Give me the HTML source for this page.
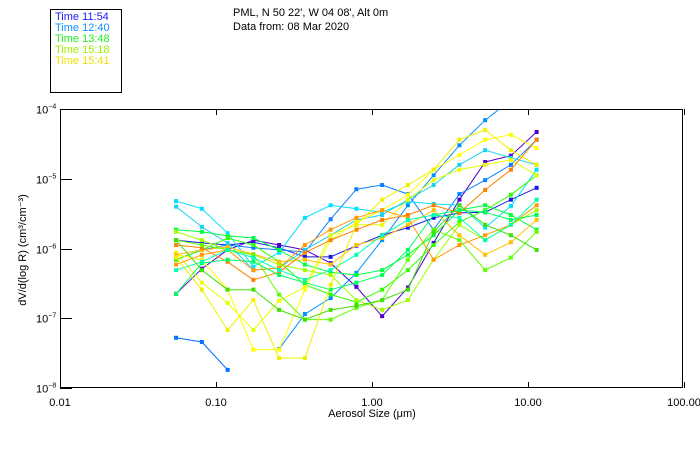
<!DOCTYPE html>
<html><head><meta charset="utf-8"><style>
body{margin:0;background:#fff;}
svg{font-family:"Liberation Sans",sans-serif;}
</style></head><body>
<svg id="chart" width="700" height="450" viewBox="0 0 700 450" xmlns="http://www.w3.org/2000/svg">
<rect x="0" y="0" width="700" height="450" fill="#fff"/>
<g>
<rect x="50.5" y="9.5" width="71" height="83" fill="none" stroke="#000"/>
<text x="55" y="20" font-size="11" fill="#1a1aff">Time 11:54</text>
<text x="55" y="31" font-size="11" fill="#1590ff">Time 12:40</text>
<text x="55" y="42" font-size="11" fill="#20ee20">Time 13:48</text>
<text x="55" y="53" font-size="11" fill="#a0f000">Time 15:18</text>
<text x="55" y="64" font-size="11" fill="#f0e000">Time 15:41</text>
</g>
<text x="233" y="16" font-size="11">PML, N 50 22', W 04 08', Alt 0m</text>
<text x="233" y="30" font-size="11">Data from: 08 Mar 2020</text>
<defs><clipPath id="pc"><rect x="60" y="109" width="623" height="279"/></clipPath></defs>
<g id="series" clip-path="url(#pc)"></g>
<rect x="60.5" y="109.5" width="622" height="278" fill="none" stroke="#000"/>
<g id="axes"></g>
<text x="372" y="417" font-size="11" text-anchor="middle">Aerosol Size (μm)</text>
<text transform="translate(26,250) rotate(-90)" font-size="11" text-anchor="middle">dV/d(log R) (cm³/cm⁻³)</text>
</svg>
<script>
const sizes = [0.0555,0.0812,0.1187,0.1736,0.2539,0.3713,0.5430,0.7941,1.1614,1.6985,2.484,3.633,5.313,7.770,11.36];
const xTicks = [0.01,0.1,1,10,100];
const xTickLabels = ["0.01","0.10","1.00","10.00","100.00"];
const yTicks = [-4,-5,-6,-7,-8];
const seriesColors = ["#1818e8","#5000d0","#0070ff","#0090ff","#0a80ff","#00e0ff","#20d0f0","#00ff40","#30ff00","#a0ff00","#e8ff00","#ffff00","#ffc000","#ff8000","#ff9a00","#00ff60","#60ff00","#00ffb0","#f0f000","#40e000"];
// log10 of dV/dlogR
const s1=[-5.88,-5.92,-5.95,-5.91,-5.99,-6.12,-6.12,-5.96,-5.81,-5.70,-5.56,-5.49,-5.48,-5.30,-5.13];
const s2=[-6.65,-6.29,-6.02,-5.88,-5.95,-6.02,-6.21,-6.55,-6.97,-6.56,-5.92,-5.30,-4.76,-4.67,-4.33];
const s3=[-7.28,-7.34,-7.74,null,null,null,null,null,null,null,null,null,null,null,null];
const s4=[null,null,null,null,-7.44,-6.94,-6.71,-6.35,-5.88,-5.38,-4.95,-4.52,-4.16,-3.87,null];
const s5=[-6.16,-6.02,-5.95,-5.99,-6.02,-6.05,-5.58,-5.15,-5.09,-5.22,-5.73,-5.22,-5.02,-4.80,-4.44];
const s6=[-5.32,-5.43,-5.78,-6.26,-6.06,-5.56,-5.38,-5.43,-5.48,-5.33,-5.36,-5.38,-5.70,-5.39,-4.87];
const s7=[-5.40,-5.69,-5.92,-6.31,-6.28,-6.02,-5.81,-5.59,-5.52,-5.30,-5.09,-4.80,-4.59,-4.70,-4.80];
const s8=[-5.73,-5.76,-5.82,-5.85,-6.02,-6.23,-6.34,-6.38,-6.31,-6.09,-5.81,-5.45,-5.38,-5.52,-5.73];
const s9=[-6.16,-6.02,-5.85,-5.95,-6.19,-6.52,-6.66,-6.77,-6.59,-6.31,-5.95,-5.62,-5.45,-5.23,-4.95];
const s10=[-5.76,-5.88,-6.02,-6.09,-6.23,-6.31,-6.38,-6.74,-6.88,-6.74,-6.16,-5.66,-5.88,-5.66,-5.45];
const s11=[-6.06,-6.49,-6.78,-7.17,-6.75,-6.55,-5.81,-5.66,-5.66,-5.30,-5.02,-4.87,-4.80,-4.73,-4.95];
const s12=[-6.09,-6.16,-6.59,-7.45,-7.45,-6.59,-5.88,-5.62,-5.45,-5.23,-4.87,-4.66,-4.44,-4.37,-4.56];
const s13=[-6.09,-6.02,-5.98,-6.08,-6.19,-6.16,-6.23,-5.95,-5.85,-5.66,-5.45,-5.81,-6.09,-5.91,-5.59];
const s14=[-5.95,-5.99,-6.19,-6.45,-6.34,-6.06,-5.88,-5.73,-5.59,-5.52,-5.38,-5.49,-5.16,-4.87,-4.44];
const s15=[-6.23,-6.09,-6.02,-6.31,-6.28,-5.95,-5.73,-5.56,-5.45,-5.56,-6.16,-5.95,-5.81,-5.66,-5.38];
const s16=[-6.65,-6.21,-6.16,-6.19,-6.38,-6.49,-6.59,-6.49,-6.38,-6.02,-5.52,-5.45,-5.48,-5.59,-5.52];
const s17=[-5.88,-5.95,-6.02,-6.09,-6.66,-7.02,-7.02,-6.85,-6.74,-6.16,-5.73,-5.88,-6.31,-6.13,-5.76];
const s18=[-6.31,-6.19,-6.02,-6.13,-6.31,-6.45,-6.31,-6.09,-5.81,-5.59,-5.52,-5.56,-5.88,-5.66,-5.30];
const s19=[-6.13,-6.59,-7.17,-6.74,-7.57,-7.57,-6.52,-5.66,-5.30,-5.09,-4.87,-4.44,-4.30,-4.59,-4.80];
const s20=[-5.88,-6.31,-6.59,-6.59,-6.88,-7.02,-6.88,-6.82,-6.74,-6.59,-5.76,-5.38,-5.66,-5.81,-6.02];
const allSeries=[s1,s2,s3,s4,s5,s6,s7,s8,s9,s10,s11,s12,s13,s14,s15,s16,s17,s18,s19,s20];

const NS="http://www.w3.org/2000/svg";
const X0=60,X1=684,Y0=109,Y1=388;
function xScale(v){return X0+(Math.log10(v)+2)/4*(X1-X0);}
function yScale(lg){return Y0+(-4-lg)/4*(Y1-Y0);}
const sg=document.getElementById('series');
allSeries.forEach((s,k)=>{
  const g=document.createElementNS(NS,'g');
  
  
  let d='';let pen=false;
  s.forEach((v,i)=>{
    if(v===null){pen=false;return;}
    d+=(pen?'L':'M')+xScale(sizes[i]).toFixed(1)+' '+yScale(v).toFixed(1);pen=true;
  });
  const p=document.createElementNS(NS,'path');
  
  
  p.setAttribute('d',d);p.setAttribute('fill','none');p.setAttribute('stroke',seriesColors[k]);p.setAttribute('stroke-width','1');
  g.appendChild(p);
  s.forEach((v,i)=>{
    if(v===null)return;
    const r=document.createElementNS(NS,'rect');
    
    
    r.setAttribute('x',xScale(sizes[i])-2);r.setAttribute('y',yScale(v)-2);
    r.setAttribute('width',4);r.setAttribute('height',4);r.setAttribute('fill',seriesColors[k]);
    g.appendChild(r);
  });
  sg.appendChild(g);
});
const ax=document.getElementById('axes');
xTicks.forEach((t,i)=>{
  const x=Math.round(xScale(t))+0.5;
  [[Y1,Y1-6],[Y0,Y0+6]].forEach(([a,b])=>{
    const l=document.createElementNS(NS,'line');
    
    
    l.setAttribute('x1',x);l.setAttribute('x2',x);l.setAttribute('y1',a);l.setAttribute('y2',b);l.setAttribute('stroke','#000');
    ax.appendChild(l);
  });
  const tx=document.createElementNS(NS,'text');
  
  
  tx.setAttribute('x',xScale(t));tx.setAttribute('y',406);tx.setAttribute('font-size','11');tx.setAttribute('text-anchor','middle');
  tx.textContent=xTickLabels[i];ax.appendChild(tx);
});
yTicks.forEach(t=>{
  const y=Math.round(yScale(t))+0.5;
  const l=document.createElementNS(NS,'line');
  
  
  l.setAttribute('x1',X0);l.setAttribute('x2',X0+12);l.setAttribute('y1',y);l.setAttribute('y2',y);l.setAttribute('stroke','#000');
  ax.appendChild(l);
  const tx=document.createElementNS(NS,'text');
  
  
  tx.setAttribute('x',36);tx.setAttribute('y',y+4);tx.setAttribute('font-size','11');
  tx.textContent='10';
  const sp=document.createElementNS(NS,'tspan');
  sp.setAttribute('font-size','7');sp.setAttribute('dy','-5');sp.textContent='−'+(-t);
  tx.appendChild(sp);ax.appendChild(tx);
});
</script>
</body></html>
